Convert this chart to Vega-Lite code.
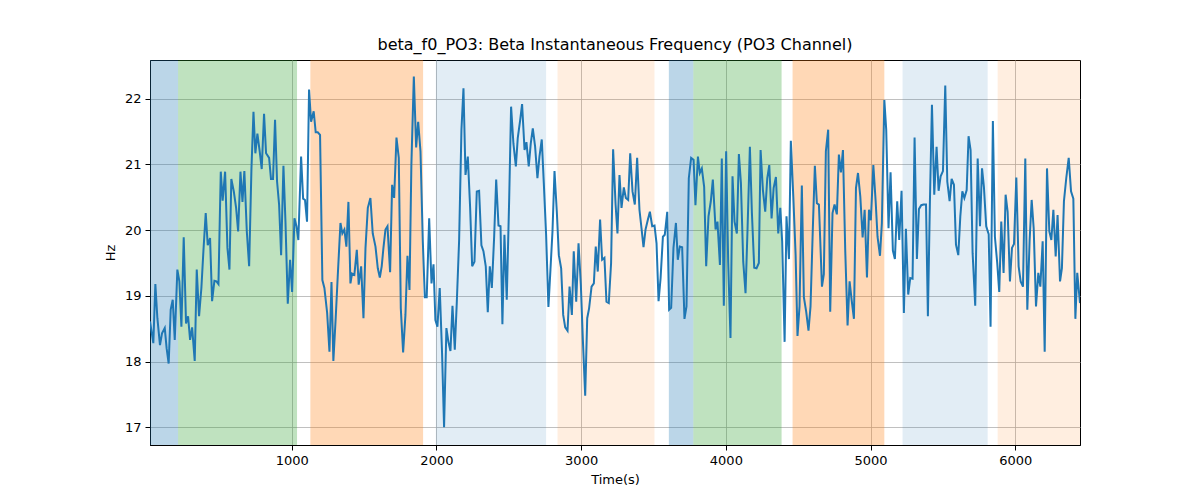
{
"$schema": "https://vega.github.io/schema/vega-lite/v6.json",
"width": 930, "height": 385,
"autosize": {"type": "none"},
"padding": {"left": 150, "top": 60, "right": 120, "bottom": 55},
"background": "white",
"title": {"text": "beta_f0_PO3: Beta Instantaneous Frequency (PO3 Channel)", "font": "DejaVu Sans", "fontSize": 16, "fontWeight": "normal", "color": "black", "offset": 7},
"config": {
 "view": {"stroke": "black", "strokeWidth": 1},
 "axis": {"domainColor": "black", "tickColor": "black", "labelColor": "black", "titleColor": "black", "labelFont": "DejaVu Sans", "labelFontSize": 13, "titleFont": "DejaVu Sans", "titleFontSize": 13, "titleFontWeight": "normal", "tickSize": 5, "gridColor": "#b0b0b0", "gridWidth": 0.8, "gridOpacity": 1, "labelPadding": 4}
},
"datasets": {
 "bands": [
  {"start": 21, "end": 215, "kind": "b"},
  {"start": 215, "end": 1037, "kind": "g"},
  {"start": 1129, "end": 1908, "kind": "o"},
  {"start": 1996, "end": 2758, "kind": "lb"},
  {"start": 2837, "end": 3507, "kind": "lo"},
  {"start": 3606, "end": 3775, "kind": "b"},
  {"start": 3775, "end": 4385, "kind": "g"},
  {"start": 4461, "end": 5095, "kind": "o"},
  {"start": 5221, "end": 5809, "kind": "lb"},
  {"start": 5878, "end": 6447, "kind": "lo"}
 ],
 "series": [
{"t":21,"v":18.61},{"t":44,"v":18.28},{"t":58,"v":19.18},{"t":72,"v":18.66},{"t":90,"v":18.25},{"t":104,"v":18.43},{"t":123,"v":18.51},{"t":136,"v":18.2},{"t":150,"v":17.97},{"t":164,"v":18.79},{"t":178,"v":18.94},{"t":192,"v":18.33},{"t":210,"v":19.4},{"t":224,"v":19.22},{"t":238,"v":18.53},{"t":254,"v":19.89},{"t":270,"v":18.58},{"t":284,"v":18.69},{"t":298,"v":18.33},{"t":312,"v":18.52},{"t":330,"v":18.01},{"t":344,"v":19.4},{"t":360,"v":18.69},{"t":376,"v":19.12},{"t":390,"v":19.68},{"t":406,"v":20.26},{"t":420,"v":19.77},{"t":436,"v":19.88},{"t":450,"v":18.92},{"t":466,"v":19.23},{"t":480,"v":19.22},{"t":494,"v":19.18},{"t":510,"v":20.89},{"t":523,"v":20.45},{"t":540,"v":20.89},{"t":556,"v":19.73},{"t":570,"v":19.4},{"t":583,"v":20.78},{"t":600,"v":20.59},{"t":616,"v":20.34},{"t":630,"v":19.98},{"t":646,"v":20.89},{"t":660,"v":20.43},{"t":673,"v":20.9},{"t":690,"v":19.98},{"t":706,"v":19.45},{"t":722,"v":20.94},{"t":736,"v":21.8},{"t":749,"v":21.17},{"t":763,"v":21.47},{"t":779,"v":21.2},{"t":793,"v":20.93},{"t":809,"v":21.77},{"t":823,"v":21.17},{"t":844,"v":21.1},{"t":857,"v":20.78},{"t":871,"v":20.78},{"t":885,"v":21.68},{"t":899,"v":20.74},{"t":913,"v":20.39},{"t":927,"v":19.62},{"t":943,"v":20.98},{"t":957,"v":20.13},{"t":973,"v":18.88},{"t":989,"v":19.55},{"t":1003,"v":19.06},{"t":1019,"v":20.18},{"t":1033,"v":20.06},{"t":1046,"v":19.85},{"t":1065,"v":21.12},{"t":1079,"v":20.48},{"t":1092,"v":20.46},{"t":1106,"v":20.13},{"t":1120,"v":22.14},{"t":1134,"v":21.65},{"t":1152,"v":21.81},{"t":1166,"v":21.49},{"t":1180,"v":21.49},{"t":1196,"v":21.45},{"t":1212,"v":19.24},{"t":1226,"v":19.12},{"t":1245,"v":18.74},{"t":1261,"v":18.15},{"t":1275,"v":19.21},{"t":1288,"v":18.01},{"t":1304,"v":18.66},{"t":1318,"v":19.29},{"t":1337,"v":20.11},{"t":1350,"v":19.95},{"t":1364,"v":20.01},{"t":1378,"v":19.75},{"t":1392,"v":20.43},{"t":1406,"v":19.19},{"t":1417,"v":19.34},{"t":1433,"v":19.32},{"t":1450,"v":19.7},{"t":1463,"v":19.17},{"t":1480,"v":19.45},{"t":1496,"v":18.66},{"t":1510,"v":19.73},{"t":1526,"v":20.34},{"t":1544,"v":20.49},{"t":1560,"v":19.95},{"t":1579,"v":19.75},{"t":1595,"v":19.42},{"t":1609,"v":19.28},{"t":1622,"v":19.45},{"t":1634,"v":19.73},{"t":1648,"v":20.01},{"t":1662,"v":20.06},{"t":1680,"v":19.36},{"t":1694,"v":20.69},{"t":1708,"v":20.49},{"t":1724,"v":21.41},{"t":1740,"v":21.1},{"t":1754,"v":18.81},{"t":1770,"v":18.14},{"t":1786,"v":18.71},{"t":1800,"v":19.61},{"t":1814,"v":19.09},{"t":1827,"v":20.99},{"t":1844,"v":22.34},{"t":1860,"v":21.26},{"t":1874,"v":21.65},{"t":1890,"v":21.2},{"t":1906,"v":19.83},{"t":1920,"v":18.98},{"t":1933,"v":18.98},{"t":1950,"v":20.18},{"t":1966,"v":19.19},{"t":1980,"v":19.48},{"t":1993,"v":18.63},{"t":2007,"v":18.53},{"t":2023,"v":19.12},{"t":2039,"v":18.13},{"t":2053,"v":17.0},{"t":2069,"v":18.51},{"t":2083,"v":18.3},{"t":2097,"v":18.16},{"t":2111,"v":18.85},{"t":2127,"v":18.18},{"t":2141,"v":18.91},{"t":2157,"v":19.85},{"t":2173,"v":21.53},{"t":2187,"v":22.16},{"t":2201,"v":20.84},{"t":2217,"v":21.12},{"t":2233,"v":20.34},{"t":2247,"v":19.45},{"t":2263,"v":19.52},{"t":2279,"v":20.59},{"t":2295,"v":20.6},{"t":2311,"v":19.77},{"t":2325,"v":19.68},{"t":2341,"v":19.45},{"t":2355,"v":18.75},{"t":2369,"v":19.45},{"t":2383,"v":19.12},{"t":2399,"v":19.9},{"t":2413,"v":20.77},{"t":2429,"v":20.07},{"t":2443,"v":20.06},{"t":2456,"v":18.57},{"t":2470,"v":19.93},{"t":2486,"v":18.94},{"t":2503,"v":20.49},{"t":2516,"v":21.88},{"t":2532,"v":21.32},{"t":2549,"v":20.97},{"t":2562,"v":21.4},{"t":2579,"v":21.68},{"t":2592,"v":21.92},{"t":2609,"v":21.22},{"t":2622,"v":21.34},{"t":2638,"v":20.97},{"t":2652,"v":21.32},{"t":2666,"v":21.55},{"t":2682,"v":21.27},{"t":2698,"v":20.79},{"t":2712,"v":21.12},{"t":2728,"v":21.38},{"t":2742,"v":20.72},{"t":2758,"v":19.93},{"t":2774,"v":18.83},{"t":2788,"v":19.4},{"t":2802,"v":19.98},{"t":2816,"v":20.9},{"t":2832,"v":20.28},{"t":2846,"v":19.62},{"t":2862,"v":19.42},{"t":2876,"v":18.71},{"t":2890,"v":18.52},{"t":2906,"v":18.47},{"t":2920,"v":19.14},{"t":2936,"v":18.71},{"t":2949,"v":19.68},{"t":2966,"v":18.91},{"t":2982,"v":19.8},{"t":2998,"v":19.17},{"t":3012,"v":18.33},{"t":3028,"v":17.48},{"t":3042,"v":18.66},{"t":3055,"v":18.81},{"t":3072,"v":19.14},{"t":3088,"v":19.19},{"t":3101,"v":19.75},{"t":3115,"v":19.37},{"t":3131,"v":20.16},{"t":3145,"v":19.55},{"t":3161,"v":19.58},{"t":3175,"v":18.91},{"t":3191,"v":18.89},{"t":3207,"v":19.5},{"t":3221,"v":21.23},{"t":3238,"v":20.39},{"t":3251,"v":19.95},{"t":3265,"v":20.84},{"t":3279,"v":20.34},{"t":3295,"v":20.65},{"t":3309,"v":20.49},{"t":3325,"v":20.46},{"t":3339,"v":21.17},{"t":3355,"v":20.59},{"t":3371,"v":20.39},{"t":3387,"v":21.1},{"t":3403,"v":20.31},{"t":3417,"v":20.03},{"t":3431,"v":19.74},{"t":3445,"v":20.01},{"t":3461,"v":20.16},{"t":3475,"v":20.28},{"t":3491,"v":20.06},{"t":3507,"v":20.07},{"t":3521,"v":19.8},{"t":3535,"v":18.92},{"t":3549,"v":19.27},{"t":3565,"v":19.9},{"t":3578,"v":19.93},{"t":3595,"v":20.28},{"t":3608,"v":18.79},{"t":3622,"v":18.82},{"t":3638,"v":19.73},{"t":3655,"v":20.11},{"t":3668,"v":19.55},{"t":3682,"v":19.75},{"t":3698,"v":19.74},{"t":3714,"v":18.65},{"t":3728,"v":18.84},{"t":3744,"v":20.79},{"t":3760,"v":21.1},{"t":3777,"v":21.07},{"t":3790,"v":20.38},{"t":3807,"v":21.12},{"t":3820,"v":20.87},{"t":3834,"v":20.94},{"t":3850,"v":20.66},{"t":3864,"v":19.45},{"t":3880,"v":20.21},{"t":3896,"v":20.44},{"t":3910,"v":20.77},{"t":3929,"v":20.01},{"t":3942,"v":20.13},{"t":3959,"v":19.47},{"t":3972,"v":21.09},{"t":3986,"v":18.85},{"t":4002,"v":21.2},{"t":4016,"v":19.52},{"t":4032,"v":18.36},{"t":4046,"v":20.82},{"t":4060,"v":20.13},{"t":4076,"v":19.95},{"t":4090,"v":21.16},{"t":4104,"v":20.72},{"t":4120,"v":19.52},{"t":4136,"v":19.04},{"t":4150,"v":20.03},{"t":4166,"v":21.27},{"t":4180,"v":20.26},{"t":4196,"v":19.43},{"t":4212,"v":19.42},{"t":4228,"v":19.5},{"t":4240,"v":21.22},{"t":4256,"v":20.61},{"t":4272,"v":20.28},{"t":4286,"v":20.79},{"t":4300,"v":20.99},{"t":4316,"v":20.18},{"t":4330,"v":20.64},{"t":4346,"v":20.81},{"t":4362,"v":19.95},{"t":4376,"v":20.34},{"t":4389,"v":19.83},{"t":4406,"v":18.3},{"t":4419,"v":20.21},{"t":4436,"v":19.56},{"t":4449,"v":21.36},{"t":4466,"v":20.51},{"t":4482,"v":19.62},{"t":4495,"v":18.39},{"t":4509,"v":18.84},{"t":4525,"v":20.68},{"t":4539,"v":18.98},{"t":4555,"v":18.76},{"t":4571,"v":18.47},{"t":4585,"v":18.84},{"t":4601,"v":20.03},{"t":4615,"v":20.98},{"t":4629,"v":20.41},{"t":4643,"v":20.39},{"t":4664,"v":19.14},{"t":4677,"v":19.33},{"t":4691,"v":21.2},{"t":4707,"v":21.53},{"t":4721,"v":18.76},{"t":4737,"v":20.26},{"t":4751,"v":20.39},{"t":4767,"v":20.24},{"t":4781,"v":21.15},{"t":4795,"v":20.88},{"t":4809,"v":21.22},{"t":4825,"v":19.68},{"t":4841,"v":18.55},{"t":4855,"v":19.22},{"t":4869,"v":18.94},{"t":4885,"v":18.65},{"t":4899,"v":20.64},{"t":4913,"v":20.87},{"t":4929,"v":20.51},{"t":4945,"v":19.89},{"t":4959,"v":20.31},{"t":4975,"v":19.28},{"t":4989,"v":20.31},{"t":5002,"v":20.15},{"t":5019,"v":20.99},{"t":5035,"v":20.44},{"t":5048,"v":19.9},{"t":5065,"v":19.61},{"t":5078,"v":20.11},{"t":5095,"v":21.98},{"t":5108,"v":21.53},{"t":5124,"v":20.03},{"t":5138,"v":20.88},{"t":5154,"v":19.69},{"t":5168,"v":19.56},{"t":5184,"v":20.44},{"t":5198,"v":19.85},{"t":5214,"v":20.6},{"t":5230,"v":18.74},{"t":5244,"v":20.02},{"t":5260,"v":19.02},{"t":5274,"v":19.27},{"t":5290,"v":19.26},{"t":5304,"v":21.41},{"t":5320,"v":19.56},{"t":5334,"v":20.32},{"t":5350,"v":20.38},{"t":5366,"v":20.39},{"t":5383,"v":20.39},{"t":5396,"v":18.69},{"t":5410,"v":20.44},{"t":5424,"v":21.91},{"t":5440,"v":20.54},{"t":5456,"v":21.27},{"t":5470,"v":20.6},{"t":5484,"v":20.82},{"t":5500,"v":20.9},{"t":5516,"v":22.2},{"t":5530,"v":20.74},{"t":5546,"v":20.44},{"t":5560,"v":20.78},{"t":5576,"v":20.69},{"t":5590,"v":19.78},{"t":5606,"v":19.62},{"t":5620,"v":20.21},{"t":5634,"v":20.59},{"t":5648,"v":20.49},{"t":5664,"v":20.61},{"t":5677,"v":21.43},{"t":5691,"v":21.22},{"t":5705,"v":19.65},{"t":5723,"v":18.85},{"t":5740,"v":21.09},{"t":5756,"v":20.06},{"t":5770,"v":20.94},{"t":5783,"v":20.66},{"t":5799,"v":20.06},{"t":5816,"v":19.94},{"t":5829,"v":18.53},{"t":5845,"v":21.66},{"t":5859,"v":19.9},{"t":5875,"v":19.5},{"t":5889,"v":19.06},{"t":5903,"v":20.13},{"t":5919,"v":19.35},{"t":5933,"v":20.54},{"t":5947,"v":20.28},{"t":5963,"v":19.22},{"t":5977,"v":19.73},{"t":5991,"v":19.79},{"t":6007,"v":20.8},{"t":6023,"v":19.45},{"t":6037,"v":19.22},{"t":6053,"v":19.14},{"t":6069,"v":21.09},{"t":6083,"v":18.79},{"t":6099,"v":19.85},{"t":6113,"v":20.46},{"t":6127,"v":20.03},{"t":6143,"v":18.84},{"t":6159,"v":19.35},{"t":6173,"v":19.14},{"t":6189,"v":19.83},{"t":6203,"v":18.15},{"t":6219,"v":20.94},{"t":6235,"v":19.98},{"t":6249,"v":19.85},{"t":6263,"v":20.31},{"t":6279,"v":19.6},{"t":6292,"v":20.23},{"t":6309,"v":19.22},{"t":6322,"v":19.42},{"t":6336,"v":20.44},{"t":6352,"v":20.79},{"t":6369,"v":21.1},{"t":6385,"v":20.59},{"t":6401,"v":20.48},{"t":6415,"v":18.65},{"t":6428,"v":19.35},{"t":6447,"v":18.89}
 ]
},
"layer": [
 {
  "data": {"name": "bands"},
  "transform": [{"filter": {"field": "kind", "oneOf": ["b", "g", "o"]}}],
  "mark": {"type": "rect", "clip": true, "opacity": 0.3},
  "encoding": {
   "x": {"field": "start", "type": "quantitative", "scale": {"domain": [21, 6447], "nice": false, "zero": false}, "axis": {"title": "Time(s)", "values": [1000, 2000, 3000, 4000, 5000, 6000], "format": "d", "titlePadding": 6, "grid": true}},
   "x2": {"field": "end"},
   "fill": {"field": "kind", "type": "nominal", "scale": {"domain": ["b", "g", "o", "lb", "lo"], "range": ["#1f77b4", "#2ca02c", "#ff7f0e", "#1f77b4", "#ff7f0e"]}, "legend": null}
  }
 },
 {
  "data": {"name": "bands"},
  "transform": [{"filter": {"field": "kind", "oneOf": ["lb", "lo"]}}],
  "mark": {"type": "rect", "clip": true, "opacity": 0.13},
  "encoding": {
   "x": {"field": "start", "type": "quantitative", "axis": {"title": "Time(s)", "values": [1000, 2000, 3000, 4000, 5000, 6000], "format": "d", "titlePadding": 6, "grid": true}},
   "x2": {"field": "end"},
   "fill": {"field": "kind", "type": "nominal", "scale": {"domain": ["b", "g", "o", "lb", "lo"], "range": ["#1f77b4", "#2ca02c", "#ff7f0e", "#1f77b4", "#ff7f0e"]}, "legend": null}
  }
 },
 {
  "data": {"name": "series"},
  "mark": {"type": "line", "color": "#1f77b4", "strokeWidth": 2, "clip": true},
  "encoding": {
   "x": {"field": "t", "type": "quantitative", "axis": {"title": "Time(s)", "values": [1000, 2000, 3000, 4000, 5000, 6000], "format": "d", "titlePadding": 6, "grid": true}},
   "y": {"field": "v", "type": "quantitative", "scale": {"domain": [16.73, 22.59], "nice": false, "zero": false}, "axis": {"title": "Hz", "values": [17, 18, 19, 20, 21, 22], "titlePadding": 7, "grid": true}}
  }
 }
]
}
